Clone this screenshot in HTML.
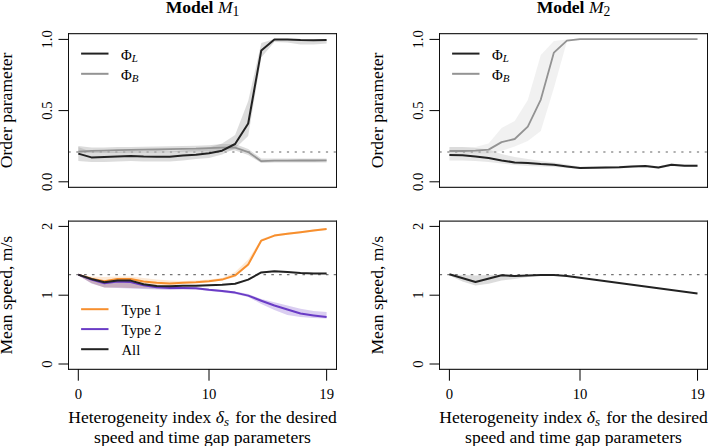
<!DOCTYPE html>
<html><head><meta charset="utf-8"><style>
html,body{margin:0;padding:0;background:#fff;}
svg{display:block;}
.t{font-family:"Liberation Serif",serif;font-size:14.7px;fill:#000;}
.lab{font-family:"Liberation Serif",serif;font-size:17.6px;fill:#000;}
</style></head><body>
<svg width="709" height="446" viewBox="0 0 709 446">
<rect width="709" height="446" fill="#fff"/>
<defs>
<clipPath id="c0"><rect x="68.5" y="33.6" width="268.0" height="153.8"/></clipPath>
<clipPath id="c1"><rect x="439.5" y="33.6" width="268.0" height="153.8"/></clipPath>
<clipPath id="c2"><rect x="68.5" y="221.2" width="268.0" height="148.10000000000002"/></clipPath>
<clipPath id="c3"><rect x="439.5" y="221.2" width="268.0" height="148.10000000000002"/></clipPath>
</defs>
<g clip-path="url(#c0)"><polygon points="78.3,146.0 91.4,147.5 104.4,147.5 117.5,147.0 130.6,147.0 143.6,146.8 156.7,146.5 169.8,146.2 182.9,146.0 195.9,145.8 209.0,145.3 222.1,144.0 235.1,144.0 248.2,149.0 261.3,158.5 274.4,158.5 287.4,158.5 300.5,158.5 313.6,158.5 326.6,158.5 326.6,162.5 313.6,162.5 300.5,162.5 287.4,162.5 274.4,162.5 261.3,163.0 248.2,155.0 235.1,150.5 222.1,150.5 209.0,151.2 195.9,151.6 182.9,151.8 169.8,152.2 156.7,152.4 143.6,152.6 130.6,152.8 117.5,153.0 104.4,153.0 91.4,153.0 78.3,153.0" fill="#9a9a9a" fill-opacity="0.35" stroke="none"/><polygon points="78.3,147.0 91.4,152.0 104.4,152.0 117.5,151.5 130.6,151.0 143.6,151.5 156.7,151.5 169.8,151.5 182.9,150.5 195.9,149.5 209.0,147.5 222.1,143.5 235.1,135.0 248.2,101.0 261.3,43.0 274.4,39.0 287.4,39.0 300.5,39.5 313.6,39.5 326.6,39.5 326.6,43.5 313.6,44.5 300.5,44.5 287.4,42.5 274.4,42.0 261.3,57.5 248.2,136.0 235.1,148.5 222.1,154.5 209.0,158.0 195.9,159.0 182.9,160.5 169.8,161.5 156.7,161.5 143.6,161.5 130.6,161.0 117.5,161.5 104.4,162.0 91.4,162.0 78.3,161.0" fill="#9a9a9a" fill-opacity="0.35" stroke="none"/><line x1="68.5" y1="151.9" x2="336.5" y2="151.9" stroke="#b0b0b0" stroke-width="2" stroke-dasharray="2.2 5.6"/><polyline points="78.3,151.7 91.4,150.8 104.4,150.6 117.5,150.2 130.6,149.9 143.6,149.7 156.7,149.5 169.8,149.2 182.9,148.8 195.9,148.6 209.0,148.1 222.1,147.6 235.1,147.6 248.2,152.1 261.3,161.2 274.4,160.6 287.4,160.6 300.5,160.5 313.6,160.5 326.6,160.4" fill="none" stroke="#939393" stroke-width="1.8" stroke-linejoin="round" stroke-linecap="butt"/><polyline points="78.3,153.6 91.4,157.4 104.4,157.1 117.5,156.6 130.6,156.0 143.6,156.6 156.7,156.8 169.8,156.7 182.9,155.6 195.9,154.7 209.0,153.2 222.1,150.7 235.1,144.0 248.2,123.5 261.3,50.4 274.4,39.5 287.4,39.6 300.5,40.1 313.6,40.2 326.6,40.0" fill="none" stroke="#222222" stroke-width="2.0" stroke-linejoin="round" stroke-linecap="butt"/></g>
<g clip-path="url(#c1)"><polygon points="449.4,147.0 462.5,147.0 475.5,147.0 488.6,143.5 501.6,128.0 514.7,121.0 527.8,100.0 540.8,55.0 553.9,41.0 566.9,39.5 580.0,38.5 593.1,38.5 606.1,38.5 619.2,38.5 632.2,38.5 645.3,38.5 658.4,38.5 671.4,38.5 684.5,38.5 697.5,38.5 697.5,40.0 684.5,40.0 671.4,40.0 658.4,40.0 645.3,40.0 632.2,40.0 619.2,40.0 606.1,40.0 593.1,40.0 580.0,40.0 566.9,41.5 553.9,88.0 540.8,131.0 527.8,141.0 514.7,146.5 501.6,151.0 488.6,153.5 475.5,153.5 462.5,153.5 449.4,153.5" fill="#9a9a9a" fill-opacity="0.14" stroke="none"/><polygon points="449.4,147.0 462.5,147.0 475.5,148.0 488.6,149.5 501.6,154.0 514.7,157.0 527.8,159.0 540.8,161.0 553.9,162.5 566.9,164.5 580.0,166.7 593.1,166.5 606.1,166.3 619.2,166.0 632.2,165.3 645.3,164.9 658.4,166.3 671.4,163.5 684.5,164.5 697.5,164.5 697.5,166.9 684.5,166.9 671.4,165.9 658.4,168.7 645.3,167.3 632.2,167.7 619.2,168.4 606.1,168.7 593.1,168.9 580.0,169.1 566.9,168.0 553.9,167.0 540.8,166.5 527.8,166.0 514.7,165.0 501.6,163.5 488.6,162.0 475.5,161.0 462.5,160.5 449.4,160.5" fill="#9a9a9a" fill-opacity="0.24" stroke="none"/><line x1="439.5" y1="151.9" x2="707.5" y2="151.9" stroke="#b0b0b0" stroke-width="2" stroke-dasharray="2.2 5.6"/><polyline points="449.4,151.0 462.5,151.0 475.5,150.7 488.6,149.6 501.6,142.1 514.7,139.0 527.8,126.6 540.8,99.6 553.9,52.6 566.9,40.7 580.0,39.2 593.1,39.2 606.1,39.2 619.2,39.2 632.2,39.2 645.3,39.2 658.4,39.2 671.4,39.2 684.5,39.2 697.5,39.2" fill="none" stroke="#939393" stroke-width="1.8" stroke-linejoin="round" stroke-linecap="butt"/><polyline points="449.4,155.0 462.5,155.3 475.5,156.5 488.6,158.0 501.6,160.4 514.7,162.4 527.8,163.1 540.8,164.1 553.9,164.8 566.9,166.4 580.0,167.9 593.1,167.7 606.1,167.5 619.2,167.2 632.2,166.5 645.3,166.1 658.4,167.5 671.4,164.7 684.5,165.7 697.5,165.7" fill="none" stroke="#222222" stroke-width="2.0" stroke-linejoin="round" stroke-linecap="butt"/></g>
<g clip-path="url(#c2)"><polygon points="78.3,274.6 91.4,278.5 104.4,281.5 117.5,280.0 130.6,280.0 143.6,283.5 156.7,285.5 169.8,285.8 182.9,284.9 195.9,284.9 209.0,284.4 222.1,283.9 235.1,283.0 248.2,278.8 261.3,271.6 274.4,270.6 287.4,271.4 300.5,272.4 313.6,272.7 326.6,272.7 326.6,274.1 313.6,274.1 300.5,273.8 287.4,272.8 274.4,272.0 261.3,273.0 248.2,280.4 235.1,284.6 222.1,285.5 209.0,286.0 195.9,286.5 182.9,286.5 169.8,288.5 156.7,289.0 143.6,288.5 130.6,288.0 117.5,287.5 104.4,287.5 91.4,283.0 78.3,275.5" fill="#9a9a9a" fill-opacity="0.3" stroke="none"/><polygon points="78.3,274.6 91.4,276.5 104.4,277.0 117.5,276.5 130.6,276.5 143.6,278.0 156.7,279.5 169.8,280.5 182.9,281.0 195.9,280.5 209.0,279.5 222.1,278.0 235.1,272.0 248.2,259.5 261.3,239.0 274.4,234.5 287.4,232.8 300.5,231.2 313.6,229.6 326.6,227.9 326.6,229.9 313.6,231.6 300.5,233.2 287.4,234.8 274.4,236.6 261.3,241.5 248.2,266.0 235.1,277.0 222.1,280.4 209.0,282.1 195.9,283.1 182.9,283.6 169.8,286.0 156.7,287.5 143.6,288.0 130.6,288.0 117.5,287.5 104.4,287.5 91.4,283.0 78.3,275.5" fill="#f78f2e" fill-opacity="0.2" stroke="none"/><polygon points="78.3,274.6 91.4,278.0 104.4,281.0 117.5,280.0 130.6,281.0 143.6,284.0 156.7,286.0 169.8,286.5 182.9,287.0 195.9,287.3 209.0,288.8 222.1,290.0 235.1,291.5 248.2,294.0 261.3,299.0 274.4,302.3 287.4,305.5 300.5,308.7 313.6,311.1 326.6,311.9 326.6,318.5 313.6,318.0 300.5,317.0 287.4,315.0 274.4,310.0 261.3,304.0 248.2,297.0 235.1,294.0 222.1,292.2 209.0,291.0 195.9,289.5 182.9,289.5 169.8,290.0 156.7,289.5 143.6,289.0 130.6,288.5 117.5,288.0 104.4,287.5 91.4,283.5 78.3,275.5" fill="#6a3cc6" fill-opacity="0.25" stroke="none"/><line x1="68.5" y1="274.6" x2="336.5" y2="274.6" stroke="#747474" stroke-width="1.3" stroke-dasharray="2.6 5.2"/><polyline points="78.3,274.6 91.4,278.7 104.4,281.3 117.5,278.9 130.6,278.9 143.6,281.6 156.7,282.8 169.8,283.6 182.9,282.8 195.9,282.3 209.0,281.3 222.1,279.6 235.1,275.4 248.2,264.5 261.3,240.6 274.4,235.6 287.4,233.8 300.5,232.2 313.6,230.6 326.6,228.9" fill="none" stroke="#f78f2e" stroke-width="2.0" stroke-linejoin="round" stroke-linecap="butt"/><polyline points="78.3,274.6 91.4,279.6 104.4,283.2 117.5,281.5 130.6,282.0 143.6,285.2 156.7,287.2 169.8,287.9 182.9,287.9 195.9,288.2 209.0,289.7 222.1,290.9 235.1,292.6 248.2,295.6 261.3,300.7 274.4,305.5 287.4,309.5 300.5,313.5 313.6,315.4 326.6,317.0" fill="none" stroke="#6a3cc6" stroke-width="2.0" stroke-linejoin="round" stroke-linecap="butt"/><polyline points="78.3,274.6 91.4,279.0 104.4,282.2 117.5,280.4 130.6,280.6 143.6,284.2 156.7,285.9 169.8,286.2 182.9,285.7 195.9,285.7 209.0,285.2 222.1,284.7 235.1,283.8 248.2,279.6 261.3,272.4 274.4,271.3 287.4,272.1 300.5,273.1 313.6,273.4 326.6,273.4" fill="none" stroke="#222222" stroke-width="2.0" stroke-linejoin="round" stroke-linecap="butt"/></g>
<g clip-path="url(#c3)"><polygon points="449.4,274.3 462.5,275.0 475.5,275.5 488.6,275.0 501.6,274.6 514.7,275.0 527.8,275.0 540.8,275.0 553.9,275.0 553.9,275.3 540.8,275.5 527.8,277.0 514.7,279.0 501.6,280.5 488.6,283.7 475.5,285.5 462.5,281.5 449.4,275.5" fill="#9a9a9a" fill-opacity="0.35" stroke="none"/><line x1="439.5" y1="274.6" x2="707.5" y2="274.6" stroke="#747474" stroke-width="1.3" stroke-dasharray="2.6 5.2"/><polyline points="449.4,274.3 475.5,282.0 501.6,275.3 514.7,276.0 527.8,275.4 540.8,275.1 553.9,275.1 566.9,275.9 697.5,293.4" fill="none" stroke="#222222" stroke-width="2.0" stroke-linejoin="round" stroke-linecap="butt"/></g>
<line x1="68.0" y1="33.6" x2="337.0" y2="33.6" stroke="#2a2a2a" stroke-width="1.3"/><line x1="68.0" y1="187.4" x2="337.0" y2="187.4" stroke="#2a2a2a" stroke-width="1.3"/><line x1="68.5" y1="33.0" x2="68.5" y2="188.0" stroke="#111" stroke-width="1.05"/><line x1="336.5" y1="33.0" x2="336.5" y2="188.0" stroke="#111" stroke-width="1.05"/>
<line x1="439.0" y1="33.6" x2="708.0" y2="33.6" stroke="#2a2a2a" stroke-width="1.3"/><line x1="439.0" y1="187.4" x2="708.0" y2="187.4" stroke="#2a2a2a" stroke-width="1.3"/><line x1="439.5" y1="33.0" x2="439.5" y2="188.0" stroke="#111" stroke-width="1.05"/><line x1="707.5" y1="33.0" x2="707.5" y2="188.0" stroke="#111" stroke-width="1.05"/>
<line x1="68.0" y1="221.2" x2="337.0" y2="221.2" stroke="#2a2a2a" stroke-width="1.3"/><line x1="68.0" y1="369.3" x2="337.0" y2="369.3" stroke="#2a2a2a" stroke-width="1.3"/><line x1="68.5" y1="220.6" x2="68.5" y2="369.90000000000003" stroke="#111" stroke-width="1.05"/><line x1="336.5" y1="220.6" x2="336.5" y2="369.90000000000003" stroke="#111" stroke-width="1.05"/>
<line x1="439.0" y1="221.2" x2="708.0" y2="221.2" stroke="#2a2a2a" stroke-width="1.3"/><line x1="439.0" y1="369.3" x2="708.0" y2="369.3" stroke="#2a2a2a" stroke-width="1.3"/><line x1="439.5" y1="220.6" x2="439.5" y2="369.90000000000003" stroke="#111" stroke-width="1.05"/><line x1="707.5" y1="220.6" x2="707.5" y2="369.90000000000003" stroke="#111" stroke-width="1.05"/>
<line x1="58.5" y1="181.8" x2="68.5" y2="181.8" stroke="#000" stroke-width="1"/><line x1="58.5" y1="110.6" x2="68.5" y2="110.6" stroke="#000" stroke-width="1"/><line x1="58.5" y1="39.4" x2="68.5" y2="39.4" stroke="#000" stroke-width="1"/>
<line x1="429.5" y1="181.8" x2="439.5" y2="181.8" stroke="#000" stroke-width="1"/><line x1="429.5" y1="110.6" x2="439.5" y2="110.6" stroke="#000" stroke-width="1"/><line x1="429.5" y1="39.4" x2="439.5" y2="39.4" stroke="#000" stroke-width="1"/>
<line x1="58.5" y1="364.0" x2="68.5" y2="364.0" stroke="#000" stroke-width="1"/><line x1="58.5" y1="295.2" x2="68.5" y2="295.2" stroke="#000" stroke-width="1"/><line x1="58.5" y1="226.4" x2="68.5" y2="226.4" stroke="#000" stroke-width="1"/>
<line x1="429.5" y1="364.0" x2="439.5" y2="364.0" stroke="#000" stroke-width="1"/><line x1="429.5" y1="295.2" x2="439.5" y2="295.2" stroke="#000" stroke-width="1"/><line x1="429.5" y1="226.4" x2="439.5" y2="226.4" stroke="#000" stroke-width="1"/>
<line x1="78.3" y1="369.3" x2="78.3" y2="380.7" stroke="#000" stroke-width="1"/><line x1="209.0" y1="369.3" x2="209.0" y2="380.7" stroke="#000" stroke-width="1"/><line x1="326.63" y1="369.3" x2="326.63" y2="380.7" stroke="#000" stroke-width="1"/>
<line x1="449.4" y1="369.3" x2="449.4" y2="380.7" stroke="#000" stroke-width="1"/><line x1="580.0" y1="369.3" x2="580.0" y2="380.7" stroke="#000" stroke-width="1"/><line x1="697.54" y1="369.3" x2="697.54" y2="380.7" stroke="#000" stroke-width="1"/>
<text transform="translate(51.5,181.8) rotate(-90)" text-anchor="middle" class="t">0.0</text><text transform="translate(51.5,110.6) rotate(-90)" text-anchor="middle" class="t">0.5</text><text transform="translate(51.5,39.4) rotate(-90)" text-anchor="middle" class="t">1.0</text>
<text transform="translate(422.5,181.8) rotate(-90)" text-anchor="middle" class="t">0.0</text><text transform="translate(422.5,110.6) rotate(-90)" text-anchor="middle" class="t">0.5</text><text transform="translate(422.5,39.4) rotate(-90)" text-anchor="middle" class="t">1.0</text>
<text transform="translate(51.5,364.0) rotate(-90)" text-anchor="middle" class="t">0</text><text transform="translate(51.5,295.2) rotate(-90)" text-anchor="middle" class="t">1</text><text transform="translate(51.5,226.4) rotate(-90)" text-anchor="middle" class="t">2</text>
<text transform="translate(422.5,364.0) rotate(-90)" text-anchor="middle" class="t">0</text><text transform="translate(422.5,295.2) rotate(-90)" text-anchor="middle" class="t">1</text><text transform="translate(422.5,226.4) rotate(-90)" text-anchor="middle" class="t">2</text>
<text x="78.3" y="398.8" text-anchor="middle" class="t">0</text><text x="209.0" y="398.8" text-anchor="middle" class="t">10</text><text x="326.63" y="398.8" text-anchor="middle" class="t">19</text>
<text x="449.4" y="398.8" text-anchor="middle" class="t">0</text><text x="580.0" y="398.8" text-anchor="middle" class="t">10</text><text x="697.54" y="398.8" text-anchor="middle" class="t">19</text>
<text transform="translate(12.2,110.4) rotate(-90)" text-anchor="middle" class="lab">Order parameter</text>
<text transform="translate(383.2,110.4) rotate(-90)" text-anchor="middle" class="lab">Order parameter</text>
<text transform="translate(12.2,295.2) rotate(-90)" text-anchor="middle" class="lab">Mean speed, m/s</text>
<text transform="translate(383.2,295.2) rotate(-90)" text-anchor="middle" class="lab">Mean speed, m/s</text>
<text x="202.5" y="422.9" text-anchor="middle" class="lab">Heterogeneity index <tspan font-style="italic">δ</tspan><tspan font-style="italic" font-size="13" dy="2.7">s</tspan><tspan dy="-2.7" dx="1.8"> for the desired</tspan></text><text x="202.5" y="442.6" text-anchor="middle" class="lab">speed and time gap parameters</text>
<text x="573.5" y="422.9" text-anchor="middle" class="lab">Heterogeneity index <tspan font-style="italic">δ</tspan><tspan font-style="italic" font-size="13" dy="2.7">s</tspan><tspan dy="-2.7" dx="1.8"> for the desired</tspan></text><text x="573.5" y="442.6" text-anchor="middle" class="lab">speed and time gap parameters</text>
<text x="202.5" y="12.7" text-anchor="middle" class="lab" font-weight="bold">Model <tspan font-style="italic" font-weight="normal">M</tspan><tspan font-weight="normal" font-size="13.6" dy="3">1</tspan></text>
<text x="573.5" y="12.7" text-anchor="middle" class="lab" font-weight="bold">Model <tspan font-style="italic" font-weight="normal">M</tspan><tspan font-weight="normal" font-size="13.6" dy="3">2</tspan></text>
<line x1="81.1" y1="53.6" x2="108.5" y2="53.6" stroke="#222222" stroke-width="2"/><line x1="81.1" y1="73.8" x2="108.5" y2="73.8" stroke="#939393" stroke-width="2"/><text x="121" y="59.7" class="t">Φ<tspan font-style="italic" font-size="11" dy="2">L</tspan></text><text x="121" y="79.9" class="t">Φ<tspan font-style="italic" font-size="11" dy="2">B</tspan></text>
<line x1="452.1" y1="53.6" x2="479.5" y2="53.6" stroke="#222222" stroke-width="2"/><line x1="452.1" y1="73.8" x2="479.5" y2="73.8" stroke="#939393" stroke-width="2"/><text x="492" y="59.7" class="t">Φ<tspan font-style="italic" font-size="11" dy="2">L</tspan></text><text x="492" y="79.9" class="t">Φ<tspan font-style="italic" font-size="11" dy="2">B</tspan></text>
<line x1="81.1" y1="309.2" x2="108.5" y2="309.2" stroke="#f78f2e" stroke-width="2"/><text x="121.5" y="314.7" class="t">Type 1</text><line x1="81.1" y1="329.1" x2="108.5" y2="329.1" stroke="#6a3cc6" stroke-width="2"/><text x="121.5" y="334.6" class="t">Type 2</text><line x1="81.1" y1="349.2" x2="108.5" y2="349.2" stroke="#222222" stroke-width="2"/><text x="121.5" y="354.7" class="t">All</text>
</svg>
</body></html>
